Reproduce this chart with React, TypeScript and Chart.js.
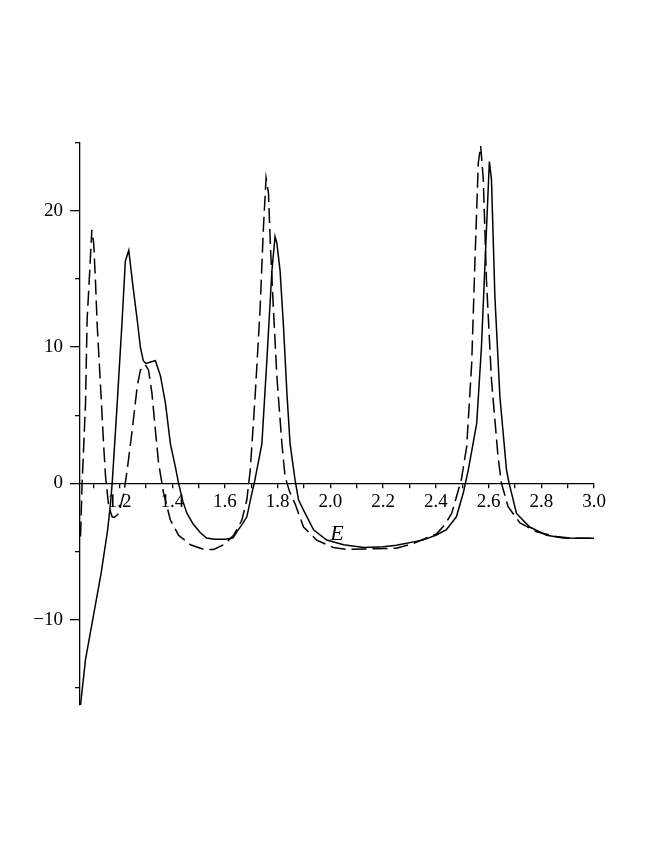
import React, { useEffect, useRef } from 'react';
import { Chart, registerables } from 'chart.js';

Chart.register(...registerables);

// Solid curve
const solidX = [
  1.052, 1.071, 1.1, 1.13, 1.155, 1.165, 1.172, 1.19, 1.21, 1.222, 1.235, 1.25, 1.267, 1.279, 1.29, 1.30,
  1.318, 1.336, 1.355, 1.374, 1.393, 1.412, 1.424, 1.44, 1.456, 1.48, 1.506, 1.53, 1.56, 1.60, 1.63,
  1.645, 1.665, 1.683, 1.7, 1.711, 1.74, 1.759, 1.778, 1.79, 1.797, 1.809, 1.822, 1.835, 1.847, 1.866,
  1.879, 1.898, 1.936, 1.986, 2.05, 2.126, 2.2, 2.25, 2.35, 2.40, 2.44, 2.478, 2.504, 2.523, 2.555,
  2.573, 2.592, 2.603, 2.611, 2.624, 2.643, 2.668, 2.678, 2.706, 2.756, 2.82, 2.883, 2.95, 3.0,
];
const solidY = [
  -16.25, -12.9, -9.8, -6.6, -3.4, -1.6, 0, 5.5, 12.0, 16.3, 17.1, 14.6, 12.0, 10.0, 9.0, 8.8,
  8.9, 9.0, 7.9, 5.9, 2.9, 1.2, 0, -1.3, -2.2, -3.0, -3.6, -4.0, -4.1, -4.1, -4.0,
  -3.55, -3.0, -2.45, -0.9, 0, 2.9, 9.05, 15.6, 18.1, 17.6, 15.6, 11.5, 6.6, 2.9, 0.24,
  -1.2, -1.96, -3.4, -4.15, -4.5, -4.7, -4.65, -4.53, -4.16, -3.8, -3.4, -2.45, -0.7, 0.98, 4.4,
  10.0, 18.6, 23.6, 22.3, 13.7, 6.35, 1.0, 0, -2.2, -3.2, -3.8, -4.0, -4.03, -4.03,
];

// Dashed curve
const dashedX = [
  1.052, 1.058, 1.071, 1.077, 1.087, 1.095, 1.102, 1.109, 1.115, 1.128, 1.14, 1.147, 1.159, 1.172, 1.18,
  1.197, 1.216, 1.229, 1.248, 1.267, 1.279, 1.298, 1.31, 1.323, 1.336, 1.348, 1.361, 1.367, 1.393, 1.424,
  1.469, 1.519, 1.557, 1.595, 1.633, 1.664, 1.683, 1.696, 1.715, 1.733, 1.746, 1.756, 1.765, 1.772, 1.784,
  1.797, 1.816, 1.828, 1.845, 1.866, 1.898, 1.948, 2.011, 2.06, 2.15, 2.25, 2.315, 2.403, 2.435, 2.46,
  2.478, 2.497, 2.517, 2.536, 2.548, 2.561, 2.57, 2.58, 2.592, 2.611, 2.636, 2.649, 2.674, 2.719, 2.782,
  2.857, 2.92, 3.0,
];
const dashedY = [
  -3.9, 0, 5.9, 12.0, 15.6, 18.6, 17.6, 14.7, 11.7, 7.1, 2.7, 0.5, -1.7, -2.45, -2.5,
  -2.2, -0.73, 0.98, 3.9, 7.1, 8.3, 8.7, 8.3, 6.6, 3.9, 1.5, 0, -0.7, -2.7, -3.8,
  -4.5, -4.84, -4.84, -4.5, -3.8, -2.7, -1.2, 1.0, 6.6, 12.7, 18.8, 22.4, 21.3, 17.6, 12.7,
  7.8, 2.9, 0.5, -0.6, -1.5, -3.2, -4.16, -4.7, -4.84, -4.8, -4.75, -4.4, -3.7, -3.0, -2.2,
  -1.0, 0.3, 2.7, 8.8, 16.1, 23.5, 24.75, 22.3, 14.9, 7.6, 1.95, 0, -1.7, -2.9, -3.55,
  -3.9, -4.03, -4.03,
];

// Axis ticks
const xTickValues = [1.1, 1.2, 1.3, 1.4, 1.5, 1.6, 1.7, 1.8, 1.9, 2.0, 2.1, 2.2, 2.3, 2.4, 2.5, 2.6, 2.7, 2.8, 2.9, 3.0];
const xLabelValues = [1.2, 1.4, 1.6, 1.8, 2.0, 2.2, 2.4, 2.6, 2.8, 3.0];
const yMajorTicks = [-10, 0, 10, 20];
const yMinorTicks = [-15, -5, 5, 15, 25];
const X_MIN = 1.05;
const X_MAX = 3.0;
const Y_MIN = -16.25;
const Y_MAX = 25;
const X_TITLE = 'E';

const FONT = 'Liberation Serif, "Times New Roman", serif';

export default function App() {
  const ref = useRef<HTMLCanvasElement | null>(null);

  useEffect(() => {
    if (!ref.current) return;
    const toPts = (xs: number[], ys: number[]) => xs.map((x, i) => ({ x, y: ys[i] }));
    const chart = new Chart(ref.current, {
      type: 'scatter',
      data: {
        datasets: [
          {
            data: toPts(solidX, solidY),
            showLine: true,
            borderColor: '#000',
            borderWidth: 1.5,
            pointRadius: 0,
            tension: 0,
            clip: false as any,
          },
          {
            data: toPts(dashedX, dashedY),
            showLine: true,
            borderColor: '#000',
            borderWidth: 1.5,
            borderDash: [15, 6],
            pointRadius: 0,
            tension: 0,
            clip: false as any,
          },
        ],
      },
      options: {
        animation: false,
        responsive: false,
        maintainAspectRatio: false,
        layout: { padding: { left: 0, right: 60, top: 142.5, bottom: 141 } },
        plugins: { legend: { display: false }, tooltip: { enabled: false } },
        scales: {
          x: {
            type: 'linear',
            position: { y: 0 } as any,
            min: X_MIN,
            max: X_MAX,
            afterBuildTicks: (s: any) => {
              s.ticks = xTickValues.map((v) => ({ value: v }));
            },
            ticks: {
              autoSkip: false,
              maxRotation: 0,
              color: '#000',
              padding: 3,
              font: { family: FONT, size: 19 },
              callback: (v: any) => {
                const n = Number(v);
                return xLabelValues.some((l) => Math.abs(l - n) < 1e-6) ? n.toFixed(1) : '';
              },
            },
            grid: { drawOnChartArea: false, drawTicks: true, tickLength: 4, color: '#000', lineWidth: 1.3 },
            border: { display: true, color: '#000', width: 1.3 },
            title: {
              display: true,
              text: X_TITLE,
              color: '#000',
              padding: { top: 5, bottom: 0 },
              font: { family: FONT, size: 22, style: 'italic' },
            },
          },
          y: {
            type: 'linear',
            position: 'left',
            min: Y_MIN,
            max: Y_MAX,
            afterFit: (s: any) => {
              s.width = 80;
            },
            afterBuildTicks: (s: any) => {
              s.ticks = yMajorTicks.map((v) => ({ value: v }));
            },
            ticks: {
              color: '#000',
              padding: 7,
              font: { family: FONT, size: 19 },
              callback: (v: any) => {
                const n = Number(v);
                return n < 0 ? '\u2212' + Math.abs(n) : String(n);
              },
            },
            grid: { drawOnChartArea: false, drawTicks: true, tickLength: 10, color: '#000', lineWidth: 1.3 },
            border: { display: true, color: '#000', width: 1.3 },
          },
          y2: {
            type: 'linear',
            position: { x: X_MIN } as any,
            min: Y_MIN,
            max: Y_MAX,
            afterBuildTicks: (s: any) => {
              s.ticks = yMinorTicks.map((v) => ({ value: v }));
            },
            ticks: { display: false },
            grid: { drawOnChartArea: false, drawTicks: true, tickLength: 5, color: '#000', lineWidth: 1.3 },
            border: { display: false },
          },
        },
      },
    });
    return () => chart.destroy();
  }, []);

  return (
    <canvas
      ref={ref}
      width={654}
      height={846}
      style={{ position: 'absolute', left: 0, top: 0, width: 654, height: 846 }}
    />
  );
}
